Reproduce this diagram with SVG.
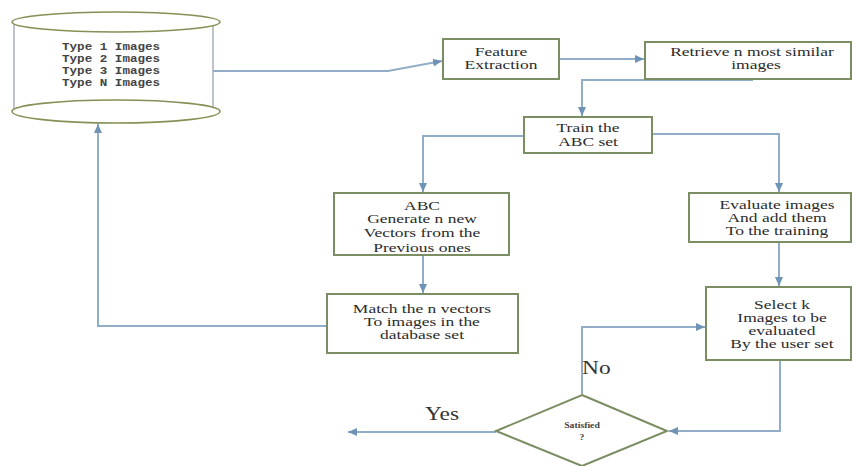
<svg xmlns="http://www.w3.org/2000/svg" width="853" height="466" viewBox="0 0 853 466">
<style>
.box{fill:#fff;stroke:#7b8d62;stroke-width:2}
.db{fill:#fff;stroke:#849055;stroke-width:1.6}
.side{stroke:#a9b1bd;stroke-width:1.5}
.c{fill:none;stroke:#92adc8;stroke-width:2;marker-end:url(#ah)}
.t{font-family:"Liberation Serif","Times New Roman",serif;font-size:12.5px;fill:#2b2b2b;text-anchor:middle}
.m{font-family:"Liberation Mono","DejaVu Sans Mono",monospace;font-size:10.5px;font-weight:bold;fill:#444}
.lbl{font-family:"Liberation Serif","Times New Roman",serif;font-size:18px;fill:#333}
.s{font-family:"Liberation Serif","Times New Roman",serif;font-size:7.5px;font-weight:bold;fill:#444;text-anchor:middle}
</style>
<defs>
<marker id="ah" markerWidth="10" markerHeight="10" refX="9" refY="5" orient="auto" markerUnits="userSpaceOnUse">
<path d="M0,1 L9,5 L0,9 z" fill="#6f93b5"/>
</marker>
</defs>
<rect width="853" height="466" fill="#fff"/>

<g id="connectors">
<path class="c" d="M213,71 H388 L442,61"/>
<path class="c" d="M559,59 H644"/>
<path class="c" d="M753,80 H582 V116"/>
<path class="c" d="M524,136 H423 V192"/>
<path class="c" d="M652,134 H779 V192"/>
<path class="c" d="M423,255 V293"/>
<path class="c" d="M779,242 V286"/>
<path class="c" d="M327,326 H98 V124"/>
<path class="c" d="M780,360 V431 H669"/>
<path class="c" d="M582,395 V327 H705"/>
<path class="c" d="M496,432 H348"/>
</g>

<g id="database">
<rect x="14" y="22" width="199" height="90" fill="#fff"/>
<line class="side" x1="14" y1="22" x2="14" y2="112"/>
<line class="side" x1="213" y1="22" x2="213" y2="112"/>
<ellipse class="db" cx="116" cy="111.5" rx="104" ry="11.5"/>
<ellipse class="db" cx="116" cy="22" rx="104" ry="10"/>
<text class="m" transform="translate(62 0) scale(1.2 1)" y="50">Type 1 Images</text>
<text class="m" transform="translate(62 0) scale(1.2 1)" y="62">Type 2 Images</text>
<text class="m" transform="translate(62 0) scale(1.2 1)" y="74">Type 3 Images</text>
<text class="m" transform="translate(62 0) scale(1.2 1)" y="86">Type N Images</text>
</g>

<g id="feature">
<rect class="box" x="443" y="39" width="116" height="40"/>
<text class="t" transform="translate(501 0) scale(1.4 1)" y="56">Feature</text>
<text class="t" transform="translate(501 0) scale(1.4 1)" y="69">Extraction</text>
</g>

<g id="retrieve">
<rect class="box" x="645" y="42" width="206" height="37"/>
<text class="t" transform="translate(752 0) scale(1.4 1)" y="56">Retrieve n most similar</text>
<text class="t" transform="translate(756 0) scale(1.4 1)" y="69">images</text>
</g>

<g id="train">
<rect class="box" x="524" y="117" width="128" height="36"/>
<text class="t" transform="translate(588 0) scale(1.4 1)" y="132">Train the</text>
<text class="t" transform="translate(588 0) scale(1.4 1)" y="146">ABC set</text>
</g>

<g id="abc">
<rect class="box" x="334" y="193" width="175" height="62"/>
<text class="t" transform="translate(422 0) scale(1.4 1)" y="210">ABC</text>
<text class="t" transform="translate(422 0) scale(1.4 1)" y="223">Generate n new</text>
<text class="t" transform="translate(422 0) scale(1.4 1)" y="237">Vectors from the</text>
<text class="t" transform="translate(422 0) scale(1.4 1)" y="252">Previous ones</text>
</g>

<g id="evaluate">
<rect class="box" x="689" y="193" width="162" height="49"/>
<text class="t" transform="translate(777 0) scale(1.4 1)" y="209">Evaluate images</text>
<text class="t" transform="translate(777 0) scale(1.4 1)" y="222">And add them</text>
<text class="t" transform="translate(777 0) scale(1.4 1)" y="235">To the training</text>
</g>

<g id="match">
<rect class="box" x="327" y="294" width="191" height="59"/>
<text class="t" transform="translate(422 0) scale(1.4 1)" y="313">Match the n vectors</text>
<text class="t" transform="translate(422 0) scale(1.4 1)" y="326">To images in the</text>
<text class="t" transform="translate(422 0) scale(1.4 1)" y="339">database set</text>
</g>

<g id="select">
<rect class="box" x="706" y="287" width="145" height="73"/>
<text class="t" transform="translate(782 0) scale(1.4 1)" y="309">Select k</text>
<text class="t" transform="translate(782 0) scale(1.4 1)" y="322">Images to be</text>
<text class="t" transform="translate(782 0) scale(1.4 1)" y="335">evaluated</text>
<text class="t" transform="translate(782 0) scale(1.4 1)" y="348">By the user set</text>
</g>

<g id="satisfied">
<polygon class="box" points="582,395 667,431 582,466 496,431"/>
<text class="s" transform="translate(582 0) scale(1.3 1)" y="428">Satisfied</text>
<text class="s" transform="translate(582 0) scale(1.3 1)" y="440">?</text>
</g>

<g id="labels">
<text class="lbl" transform="translate(582 0) scale(1.3 1)" y="374">No</text>
<text class="lbl" transform="translate(425 0) scale(1.3 1)" y="420">Yes</text>
</g>
</svg>
